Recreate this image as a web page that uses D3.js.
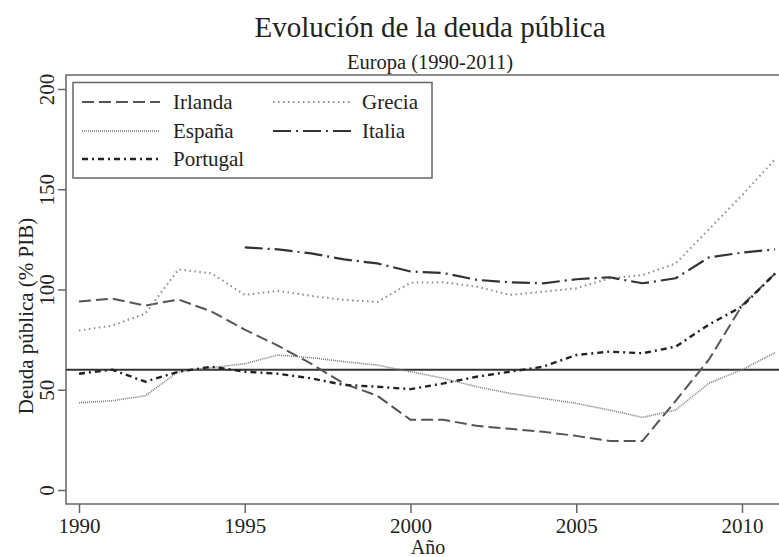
<!DOCTYPE html>
<html>
<head>
<meta charset="utf-8">
<script src="https://cdn.jsdelivr.net/npm/d3@7"></script>
<style>
  body { margin: 0; background: #fff; }
  svg { display: block; font-family: "Liberation Serif", "Times New Roman", serif; }
</style>
</head>
<body>
<svg id="chart" width="779" height="557"></svg>
<script>
const years = [1990, 1991, 1992, 1993, 1994, 1995, 1996, 1997, 1998, 1999, 2000,
  2001, 2002, 2003, 2004, 2005, 2006, 2007, 2008, 2009, 2010, 2011];
const irlanda = [94, 95.5, 92, 95, 89, 80, 72, 63, 53, 47, 35,
  35, 32, 30.5, 29, 27, 24.5, 24.5, 44.5, 65, 92, 108];
const grecia = [79.5, 82, 88, 110, 108, 97.3, 99.3, 96.8, 94.8, 93.8, 103.4,
  103.6, 101.4, 97.3, 98.9, 100.6, 105.6, 107.2, 113, 130, 147, 165];
const espana = [43.5, 44.5, 47, 59, 61, 63, 67.3, 66, 64, 62.3, 59,
  55.7, 51.5, 48.2, 45.7, 43.2, 39.9, 36.2, 39.9, 53.2, 60, 68.5];
const italia = [null, null, null, null, null, 121, 120, 118, 115, 113, 109,
  108.2, 104.8, 103.6, 103.1, 105.1, 106.1, 103.1, 105.6, 116, 118.4, 120];
const portugal = [58, 60, 54, 59, 61.5, 59, 58, 55.7, 52.4, 51.5, 50.3,
  53.2, 56.5, 59, 61.5, 67.3, 69, 68.2, 71.5, 82.5, 91.5, 108];
const umbral = 60;
const yTicks = [0, 50, 100, 150, 200];
const xTicks = [1990, 1995, 2000, 2005, 2010];

const series = [
  { name: "Irlanda", values: irlanda, color: "#555", width: 2, dash: "12,5" },
  { name: "España", values: espana, color: "#7a7a7a", width: 1.6, dash: "1,1" },
  { name: "Portugal", values: portugal, color: "#222", width: 2.4, dash: "6,4,2,4" },
  { name: "Grecia", values: grecia, color: "#8a8a8a", width: 2, dash: "1.5,3.5" },
  { name: "Italia", values: italia, color: "#333", width: 2.2, dash: "18,5,2,5" }
];

const svg = d3.select("#chart");
const frame = { left: 66, top: 75, right: 790, bottom: 504 };

const x = d3.scaleLinear().domain([1990, 2010]).range([79, 742]);
const y = d3.scaleLinear().domain([0, 200]).range([490, 89]);

// titles
svg.append("text")
  .attr("x", 430).attr("y", 37)
  .attr("text-anchor", "middle")
  .style("font-size", "29px").attr("fill", "#222")
  .text("Evolución de la deuda pública");
svg.append("text")
  .attr("x", 430).attr("y", 69)
  .attr("text-anchor", "middle")
  .style("font-size", "20.5px").attr("fill", "#222")
  .text("Europa (1990-2011)");

// plot frame
svg.append("rect")
  .attr("x", frame.left).attr("y", frame.top)
  .attr("width", frame.right - frame.left).attr("height", frame.bottom - frame.top)
  .attr("fill", "none").attr("stroke", "#666").attr("stroke-width", 1.5);

// axes
const yAxis = svg.append("g")
  .attr("transform", "translate(" + frame.left + ",0)")
  .call(d3.axisLeft(y).tickValues(yTicks).tickSize(8).tickPadding(0).tickFormat(d3.format("d")));
yAxis.selectAll("text")
  .attr("x", null).attr("dy", null)
  .attr("transform", "translate(-12,0) rotate(-90)")
  .attr("text-anchor", "middle")
  .style("font-size", "21px").attr("font-family", "Liberation Serif").attr("fill", "#222");

const xAxis = svg.append("g")
  .attr("transform", "translate(0," + frame.bottom + ")")
  .call(d3.axisBottom(x).tickValues(xTicks).tickSize(9).tickPadding(5).tickFormat(d3.format("d")));
xAxis.selectAll("text")
  .style("font-size", "21px").attr("font-family", "Liberation Serif").attr("fill", "#222");

svg.selectAll(".domain").remove();
svg.selectAll(".tick line").attr("stroke", "#666").attr("stroke-width", 1.5);

svg.append("text")
  .attr("transform", "translate(33,316) rotate(-90)")
  .attr("text-anchor", "middle")
  .style("font-size", "21px").attr("fill", "#222")
  .text("Deuda pública (% PIB)");
svg.append("text")
  .attr("x", 428).attr("y", 554)
  .attr("text-anchor", "middle")
  .style("font-size", "20px").attr("fill", "#222")
  .text("Año");

// threshold line
svg.append("line")
  .attr("x1", frame.left).attr("x2", frame.right)
  .attr("y1", y(umbral)).attr("y2", y(umbral))
  .attr("stroke", "#333").attr("stroke-width", 2);

// series
const line = d3.line()
  .defined(d => d.v !== null)
  .x(d => x(d.year))
  .y(d => y(d.v));

svg.append("g")
  .selectAll("path")
  .data(series)
  .enter()
  .append("path")
  .attr("d", s => line(years.map((yr, i) => ({ year: yr, v: s.values[i] }))))
  .attr("fill", "none")
  .attr("stroke", s => s.color)
  .attr("stroke-width", s => s.width)
  .attr("stroke-dasharray", s => s.dash)
  .attr("stroke-linejoin", "round");

// legend
const legend = svg.append("g");
legend.append("rect")
  .attr("x", 73).attr("y", 82.5).attr("width", 359).attr("height", 95.5)
  .attr("fill", "#fff").attr("stroke", "#666").attr("stroke-width", 1.5);

const legendPos = [
  { lx: 82, ty: 102 }, { lx: 82, ty: 131 }, { lx: 82, ty: 159 },
  { lx: 273, ty: 102 }, { lx: 273, ty: 131 }
];
const item = legend.selectAll(".item")
  .data(series)
  .enter()
  .append("g")
  .attr("class", "item")
  .attr("transform", (d, i) => "translate(" + legendPos[i].lx + "," + legendPos[i].ty + ")");
item.append("line")
  .attr("x1", 0).attr("x2", 78).attr("y1", 0).attr("y2", 0)
  .attr("stroke", d => d.color)
  .attr("stroke-width", d => d.width)
  .attr("stroke-dasharray", d => d.dash);
item.append("text")
  .attr("x", (d, i) => i < 3 ? 91 : 89)
  .attr("dy", "0.33em")
  .style("font-size", "21px").attr("fill", "#222")
  .text(d => d.name);
</script>
</body>
</html>
